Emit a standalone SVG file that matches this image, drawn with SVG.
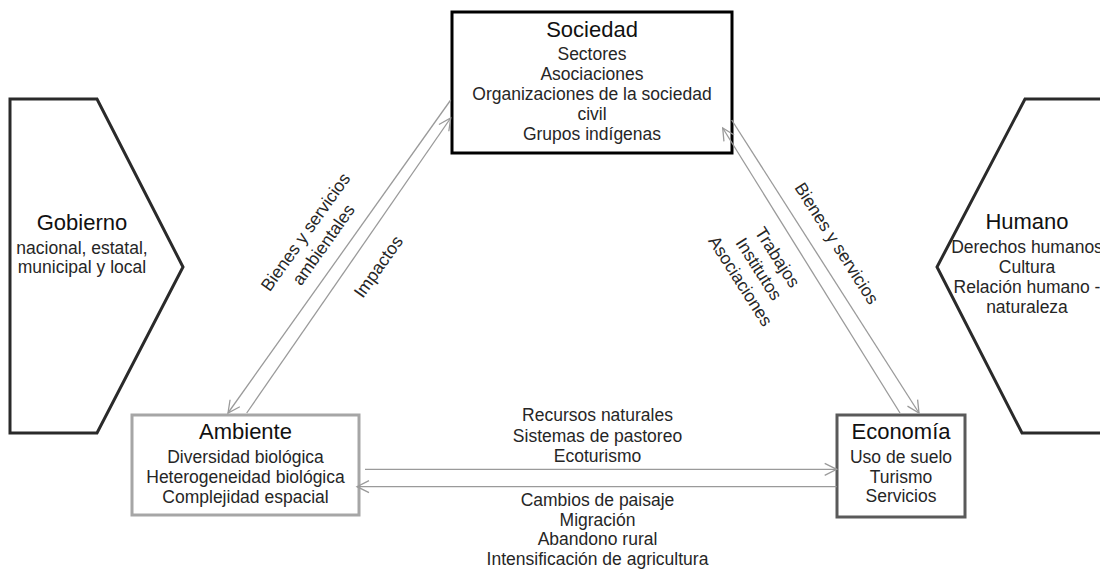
<svg xmlns="http://www.w3.org/2000/svg" width="1100" height="569" viewBox="0 0 1100 569">
<style>
text{font-family:"Liberation Sans",Arial,sans-serif;text-anchor:middle}
.t{font-size:22px;fill:#111}
.s{font-size:17.5px;fill:#262626}
.l{font-size:17.5px;fill:#262626}
.c{fill:none;stroke:#9a9a9a;stroke-width:1.3;marker-end:url(#ah)}
</style>
<defs>
<marker id="ah" markerUnits="userSpaceOnUse" markerWidth="16" markerHeight="16" refX="13" refY="7" orient="auto">
<path d="M1,1 L13,7 L1,13" fill="none" stroke="#9a9a9a" stroke-width="1.3"/>
</marker>
</defs>
<rect width="1100" height="569" fill="#fff"/>
<g id="gobierno">
<polygon points="10,99 97,99 183,267 97,433 10,433" fill="#fff" stroke="#2a2a2a" stroke-width="3"/>
<text class="t" x="82" y="230">Gobierno</text>
<text class="s" x="82" y="254">nacional, estatal,</text>
<text class="s" x="82" y="273">municipal y local</text>
</g>
<g id="humano">
<polygon points="1025,99 1110,99 1110,433 1022,433 937,267" fill="#fff" stroke="#2a2a2a" stroke-width="3"/>
<text class="t" x="1027" y="229">Humano</text>
<text class="s" x="1027" y="253">Derechos humanos</text>
<text class="s" x="1027" y="273">Cultura</text>
<text class="s" x="1027" y="293">Relación humano -</text>
<text class="s" x="1027" y="313">naturaleza</text>
</g>
<g id="sociedad">
<rect x="452" y="12" width="280" height="141" fill="#fff" stroke="#000" stroke-width="3"/>
<text class="t" x="592" y="37">Sociedad</text>
<text class="s" x="592" y="60">Sectores</text>
<text class="s" x="592" y="80">Asociaciones</text>
<text class="s" x="592" y="100">Organizaciones de la sociedad</text>
<text class="s" x="592" y="120">civil</text>
<text class="s" x="592" y="140">Grupos indígenas</text>
</g>
<g id="ambiente">
<rect x="132" y="415" width="227" height="100" fill="#fff" stroke="#a6a6a6" stroke-width="3"/>
<text class="t" x="245.5" y="439">Ambiente</text>
<text class="s" x="245.5" y="463">Diversidad biológica</text>
<text class="s" x="245.5" y="483">Heterogeneidad biológica</text>
<text class="s" x="245.5" y="503">Complejidad espacial</text>
</g>
<g id="economia">
<rect x="837" y="415" width="128" height="102" fill="#fff" stroke="#5a5a5a" stroke-width="3"/>
<text class="t" x="901" y="439">Economía</text>
<text class="s" x="901" y="463">Uso de suelo</text>
<text class="s" x="901" y="483">Turismo</text>
<text class="s" x="901" y="502">Servicios</text>
</g>
<g id="connectors">
<line class="c" x1="450.7" y1="100" x2="228" y2="413"/>
<line class="c" x1="246.7" y1="413" x2="450.7" y2="118"/>
<line class="c" x1="731.7" y1="120" x2="919" y2="413"/>
<line class="c" x1="900" y1="413" x2="722.7" y2="128"/>
<line class="c" x1="365" y1="469.3" x2="836.7" y2="469.3"/>
<line class="c" x1="836.7" y1="486.7" x2="357" y2="486.7"/>
<g transform="translate(314.5,238.3) rotate(-54.6)">
<text class="l" x="0" y="-5">Bienes y servicios</text>
<text class="l" x="0" y="17">ambientales</text>
</g>
<g transform="translate(378.3,266.7) rotate(-54.6)">
<text class="l" x="0" y="6">Impactos</text>
</g>
<g transform="translate(836.7,243.3) rotate(57.4)">
<text class="l" x="0" y="6">Bienes y servicios</text>
</g>
<g transform="translate(759,269) rotate(57.4)">
<text class="l" x="0" y="-16">Trabajos</text>
<text class="l" x="0" y="6">Institutos</text>
<text class="l" x="0" y="28">Asociaciones</text>
</g>
<text class="l" x="597.5" y="421">Recursos naturales</text>
<text class="l" x="597.5" y="441.5">Sistemas de pastoreo</text>
<text class="l" x="597.5" y="462">Ecoturismo</text>
<text class="l" x="597.5" y="506">Cambios de paisaje</text>
<text class="l" x="597.5" y="525.5">Migración</text>
<text class="l" x="597.5" y="545">Abandono rural</text>
<text class="l" x="597.5" y="564.5">Intensificación de agricultura</text>
</g>
</svg>
